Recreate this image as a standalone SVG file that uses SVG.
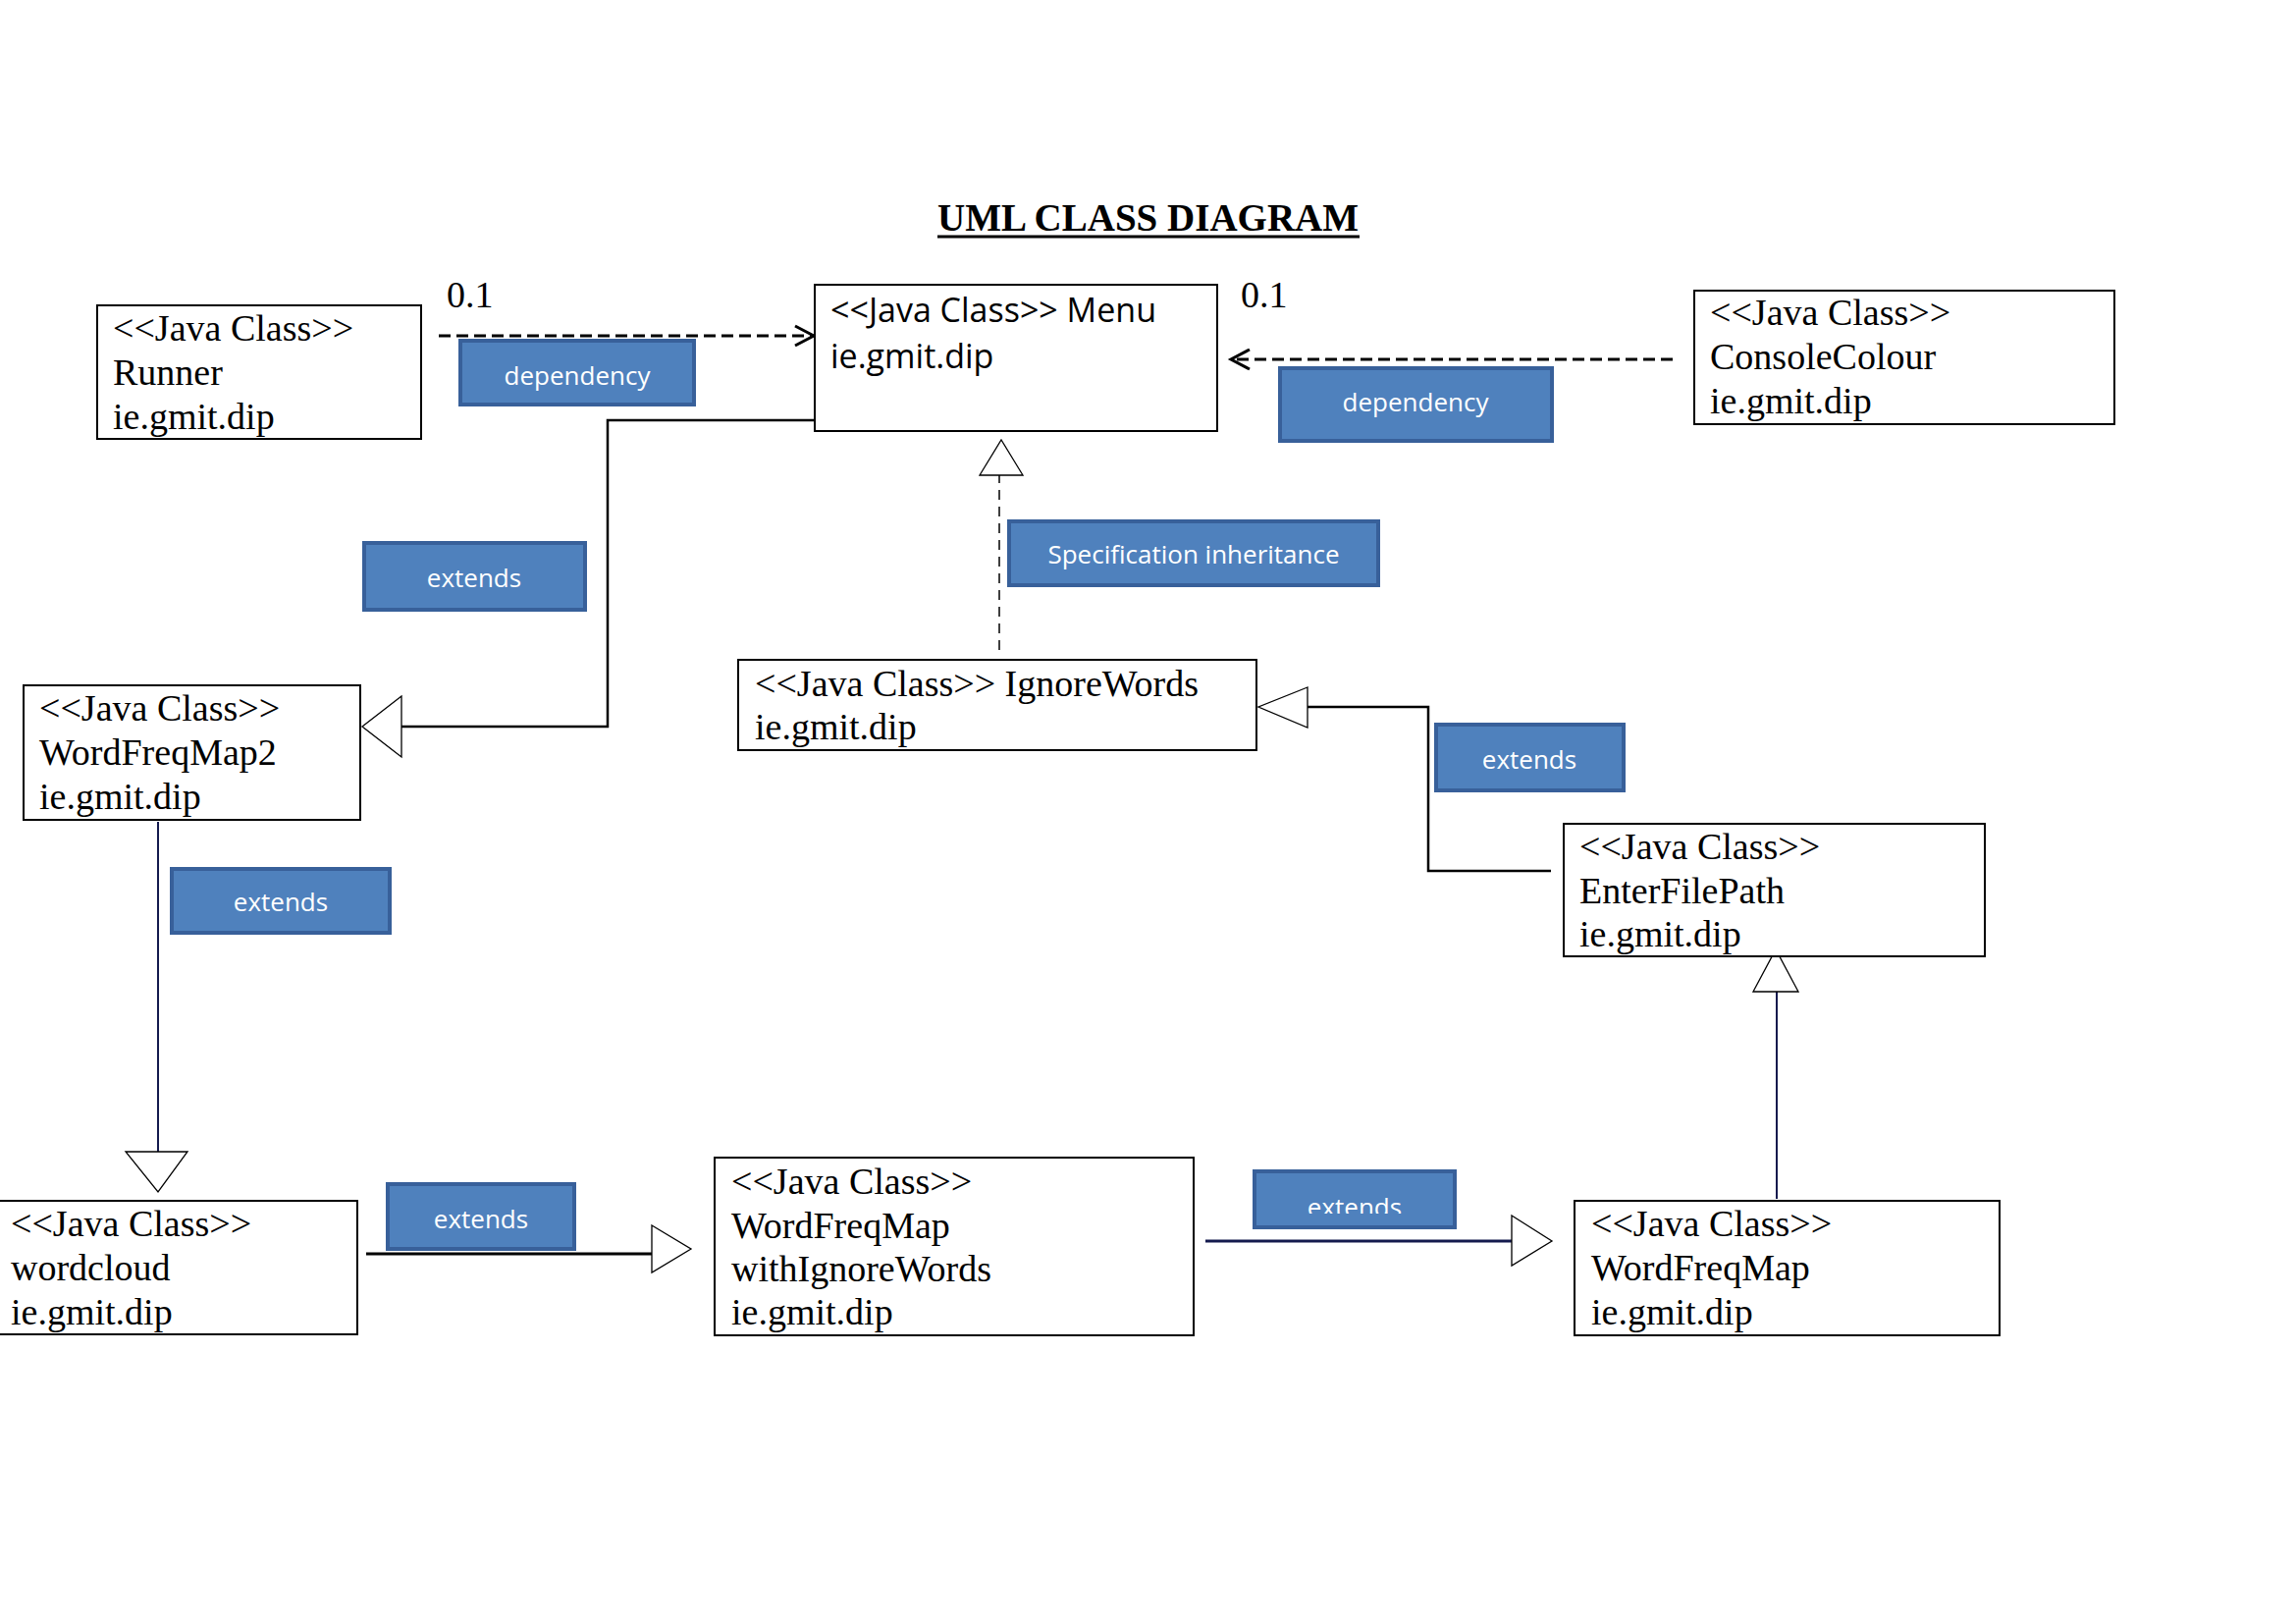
<svg xmlns="http://www.w3.org/2000/svg" width="2339" height="1653" viewBox="0 0 2339 1653">
<style>
.box{fill:#fff;stroke:#000;stroke-width:2}
.serif{font-family:"Liberation Serif","Times New Roman",serif;font-size:38px;fill:#000}
.sans{font-family:"Open Sans","Liberation Sans",sans-serif;font-size:34px;fill:#000}
.lbl{fill:#4F81BD;stroke:#38609A;stroke-width:4}
.lbltxt{font-family:"Open Sans","Liberation Sans",sans-serif;font-size:26px;fill:#fff;text-anchor:middle}
.dep{fill:none;stroke:#000;stroke-width:3;stroke-dasharray:12 6}
.vhead{fill:none;stroke:#000;stroke-width:3}
.tri{fill:#fff;stroke:#000;stroke-width:1.3}
.solid{fill:none;stroke:#000;stroke-width:2.5}
.navy{fill:none;stroke:#141a4e;stroke-width:2}
</style>
<defs>
<clipPath id="clip8"><rect x="1270" y="1190" width="220" height="46"/></clipPath>
</defs>
<rect width="2339" height="1653" fill="#fff"/>
<g id="title">
<text x="955" y="235" font-family="Liberation Serif,'Times New Roman',serif" font-size="39" font-weight="bold">UML CLASS DIAGRAM</text>
<line x1="955" y1="241" x2="1385" y2="241" stroke="#000" stroke-width="3"/>
</g>
<g id="multiplicities">
<text class="serif" x="455" y="313">0.1</text>
<text class="serif" x="1264" y="313">0.1</text>
</g>
<g id="connectors">
<line class="dep" x1="447" y1="342" x2="826" y2="342"/>
<polyline class="vhead" points="810,332 829,342 810,352"/>
<line class="dep" x1="1704" y1="366" x2="1257" y2="366"/>
<polyline class="vhead" points="1273,356 1254,366 1273,376"/>
<polyline class="solid" points="829,428 619,428 619,740 409,740"/>
<polygon class="tri" points="409,709 369,740 409,771"/>
<line x1="1018" y1="662" x2="1018" y2="484" stroke="#000" stroke-width="1.5" stroke-dasharray="10 7"/>
<polygon class="tri" points="998,484 1020,448 1042,484"/>
<polyline class="solid" points="1580,887 1455,887 1455,720 1332,720"/>
<polygon class="tri" points="1332,700 1282,720 1332,741"/>
<line class="navy" x1="161" y1="837" x2="161" y2="1173"/>
<polygon class="tri" points="128,1173 191,1173 161,1214"/>
<line x1="373" y1="1277" x2="664" y2="1277" stroke="#000" stroke-width="3"/>
<polygon class="tri" points="664,1248 704,1272 664,1296"/>
<line x1="1228" y1="1264" x2="1540" y2="1264" stroke="#141a4e" stroke-width="3"/>
<polygon class="tri" points="1540,1238 1581,1264 1540,1289"/>
<line class="navy" x1="1810" y1="1221" x2="1810" y2="1010"/>
<polygon class="tri" points="1786,1010 1809,967 1832,1010"/>
</g>
<g id="labels">
<g id="label-dep1"><rect class="lbl" x="469" y="347" width="238" height="65"/><text class="lbltxt" x="588" y="392">dependency</text></g>
<g id="label-dep2"><rect class="lbl" x="1304" y="375" width="277" height="74"/><text class="lbltxt" x="1442" y="419">dependency</text></g>
<g id="label-ext1"><rect class="lbl" x="371" y="553" width="225" height="68"/><text class="lbltxt" x="483" y="598">extends</text></g>
<g id="label-spec"><rect class="lbl" x="1028" y="531" width="376" height="65"/><text class="lbltxt" x="1216" y="574">Specification inheritance</text></g>
<g id="label-ext5"><rect class="lbl" x="1463" y="738" width="191" height="67"/><text class="lbltxt" x="1558" y="783">extends</text></g>
<g id="label-ext6"><rect class="lbl" x="175" y="885" width="222" height="65"/><text class="lbltxt" x="286" y="928">extends</text></g>
<g id="label-ext7"><rect class="lbl" x="395" y="1206" width="190" height="66"/><text class="lbltxt" x="490" y="1251">extends</text></g>
<g id="label-ext8"><rect class="lbl" x="1278" y="1193" width="204" height="57"/><text class="lbltxt" x="1380" y="1239" clip-path="url(#clip8)">extends</text></g>
</g>
<g id="Runner">
<rect class="box" x="99" y="311" width="330" height="136"/>
<text class="serif" x="115" y="347">&lt;&lt;Java Class&gt;&gt;</text>
<text class="serif" x="115" y="392">Runner</text>
<text class="serif" x="115" y="437">ie.gmit.dip</text>
</g>
<g id="Menu">
<rect class="box" x="830" y="290" width="410" height="149"/>
<text class="sans" x="846" y="328">&lt;&lt;Java Class&gt;&gt; Menu</text>
<text class="sans" x="846" y="375">ie.gmit.dip</text>
</g>
<g id="ConsoleColour">
<rect class="box" x="1726" y="296" width="428" height="136"/>
<text class="serif" x="1742" y="331">&lt;&lt;Java Class&gt;&gt;</text>
<text class="serif" x="1742" y="376">ConsoleColour</text>
<text class="serif" x="1742" y="421">ie.gmit.dip</text>
</g>
<g id="WordFreqMap2">
<rect class="box" x="24" y="698" width="343" height="137"/>
<text class="serif" x="40" y="734">&lt;&lt;Java Class&gt;&gt;</text>
<text class="serif" x="40" y="779">WordFreqMap2</text>
<text class="serif" x="40" y="824">ie.gmit.dip</text>
</g>
<g id="IgnoreWords">
<rect class="box" x="752" y="672" width="528" height="92"/>
<text class="serif" x="769" y="709">&lt;&lt;Java Class&gt;&gt; IgnoreWords</text>
<text class="serif" x="769" y="753">ie.gmit.dip</text>
</g>
<g id="EnterFilePath">
<rect class="box" x="1593" y="839" width="429" height="135"/>
<text class="serif" x="1609" y="875">&lt;&lt;Java Class&gt;&gt;</text>
<text class="serif" x="1609" y="920">EnterFilePath</text>
<text class="serif" x="1609" y="964">ie.gmit.dip</text>
</g>
<g id="wordcloud">
<rect class="box" x="-2" y="1223" width="366" height="136"/>
<text class="serif" x="11" y="1259">&lt;&lt;Java Class&gt;&gt;</text>
<text class="serif" x="11" y="1304">wordcloud</text>
<text class="serif" x="11" y="1349">ie.gmit.dip</text>
</g>
<g id="WordFreqMapwithIgnoreWords">
<rect class="box" x="728" y="1179" width="488" height="181"/>
<text class="serif" x="745" y="1216">&lt;&lt;Java Class&gt;&gt;</text>
<text class="serif" x="745" y="1261">WordFreqMap</text>
<text class="serif" x="745" y="1305">withIgnoreWords</text>
<text class="serif" x="745" y="1349">ie.gmit.dip</text>
</g>
<g id="WordFreqMap">
<rect class="box" x="1604" y="1223" width="433" height="137"/>
<text class="serif" x="1621" y="1259">&lt;&lt;Java Class&gt;&gt;</text>
<text class="serif" x="1621" y="1304">WordFreqMap</text>
<text class="serif" x="1621" y="1349">ie.gmit.dip</text>
</g>
</svg>
